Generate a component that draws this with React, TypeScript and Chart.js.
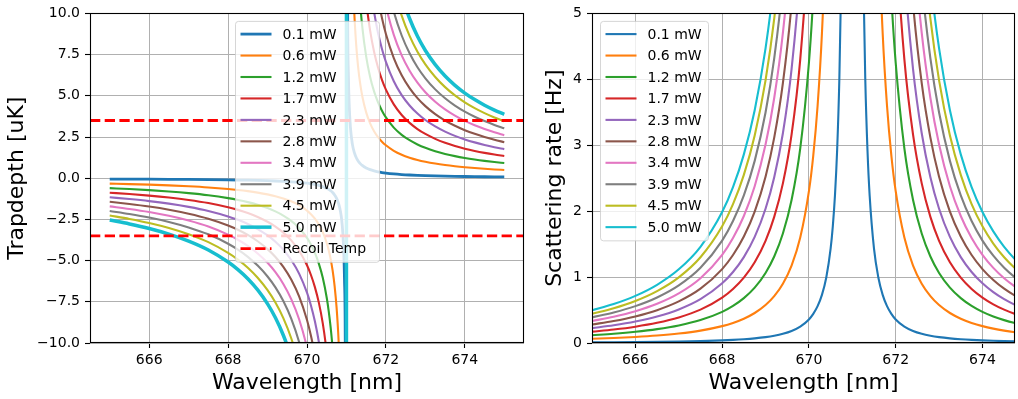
import React, { useEffect, useRef } from 'react';
import { Chart, registerables } from 'chart.js';

Chart.register(...registerables);
Chart.defaults.font.family = '"DejaVu Sans", sans-serif';
Chart.defaults.color = '#000';

// ---- data ----
const wavelengths = [
  665, 665.5, 666, 666.5, 667, 667.5, 668, 668.25, 668.5, 668.75, 669, 669.2, 669.4, 669.6, 669.8,
  670, 670.1, 670.2, 670.3, 670.4, 670.5, 670.55, 670.6, 670.65, 670.7, 670.75, 670.8, 670.85,
  670.88, 670.91, 670.93, 670.95, 670.97, 670.99, 671.01, 671.03, 671.05, 671.07, 671.1, 671.15,
  671.2, 671.25, 671.3, 671.35, 671.4, 671.5, 671.6, 671.7, 671.8, 671.9, 672, 672.2, 672.4, 672.6,
  672.8, 673, 673.25, 673.5, 673.75, 674, 674.25, 674.5, 674.75, 675,
];

// trap depth per mW of beam power [uK/mW]
const depthPerMw = [
  -0.508, -0.555, -0.61, -0.678, -0.763, -0.871, -1.017, -1.109, -1.22, -1.356, -1.525, -1.694, -1.906, -2.179, -2.542,
  -3.05, -3.389, -3.813, -4.357, -5.083, -6.1, -6.778, -7.625, -8.714, -10.17, -12.2, -15.25, -20.33,
  -25.42, -33.89, -43.57, -61.0, -101.7, -305, 310, 103.3, 62.0, 44.29, 31.0, 20.67,
  15.5, 12.4, 10.33, 8.857, 7.75, 6.2, 5.167, 4.429, 3.875, 3.444, 3.1, 2.583, 2.214, 1.938,
  1.722, 1.55, 1.378, 1.24, 1.127, 1.033, 0.954, 0.886, 0.827, 0.775,
];

// scattering rate per mW of beam power [Hz/mW]
const scatterPerMw = [
  0.0993, 0.1182, 0.143, 0.1766, 0.2235, 0.2919, 0.3973, 0.4729, 0.5722, 0.7064, 0.894, 1.104, 1.397, 1.824, 2.483,
  3.576, 4.415, 5.588, 7.298, 9.933, 14.3, 17.66, 22.35, 29.19, 39.73, 57.22, 89.4, 158.9,
  248.3, 441.5, 729.8, 1430, 3973, 35760, 35760, 3973, 1430, 729.8, 357.6, 158.9,
  89.4, 57.22, 39.73, 29.19, 22.35, 14.3, 9.933, 7.298, 5.588, 4.415, 3.576, 2.483, 1.824, 1.397,
  1.104, 0.894, 0.7064, 0.5722, 0.4729, 0.3973, 0.3386, 0.2919, 0.2543, 0.2235,
];

const powers = [0.1, 0.644, 1.189, 1.733, 2.278, 2.822, 3.367, 3.911, 4.456, 5.0];
const powerLabels = ['0.1 mW', '0.6 mW', '1.2 mW', '1.7 mW', '2.3 mW', '2.8 mW', '3.4 mW', '3.9 mW', '4.5 mW', '5.0 mW'];
const recoilTemp = 3.5;
const recoilLabel = 'Recoil Temp';

const wavelengthTicks = [666, 668, 670, 672, 674];
const depthTicks = [-10, -7.5, -5, -2.5, 0, 2.5, 5, 7.5, 10];
const scatterTicks = [0, 1, 2, 3, 4, 5];

const colors = ['#1f77b4', '#ff7f0e', '#2ca02c', '#d62728', '#9467bd', '#8c564b', '#e377c2', '#7f7f7f', '#bcbd22', '#17becf'];

// ---- helpers ----
function roundRect(ctx: CanvasRenderingContext2D, x: number, y: number, w: number, h: number, r: number) {
  ctx.beginPath();
  ctx.moveTo(x + r, y);
  ctx.lineTo(x + w - r, y);
  ctx.arcTo(x + w, y, x + w, y + r, r);
  ctx.lineTo(x + w, y + h - r);
  ctx.arcTo(x + w, y + h, x + w - r, y + h, r);
  ctx.lineTo(x + r, y + h);
  ctx.arcTo(x, y + h, x, y + h - r, r);
  ctx.lineTo(x, y + r);
  ctx.arcTo(x, y, x + r, y, r);
  ctx.closePath();
}

const mplPlugin = {
  id: 'mpl',
  afterDatasetsDraw(chart: any, _args: any, opts: any) {
    const { ctx, chartArea: a } = chart;
    ctx.save();
    // spines
    ctx.strokeStyle = '#000';
    ctx.lineWidth = 1.1;
    ctx.strokeRect(Math.round(a.left) + 0.5, Math.round(a.top) + 0.5, Math.round(a.right - a.left) - 1, Math.round(a.bottom - a.top) - 1);
    // legend
    const items = opts.items || [];
    const x0 = a.left + opts.dx;
    const y0 = a.top + opts.dy;
    const h = opts.first * 2 + (items.length - 1) * opts.spacing;
    roundRect(ctx, x0 + 0.5, y0 + 0.5, opts.width, h, 3);
    ctx.fillStyle = 'rgba(255,255,255,0.8)';
    ctx.fill();
    ctx.strokeStyle = 'rgba(204,204,204,0.8)';
    ctx.lineWidth = 1;
    ctx.stroke();
    ctx.font = '14px "DejaVu Sans"';
    ctx.textBaseline = 'middle';
    ctx.textAlign = 'left';
    items.forEach((it: any, k: number) => {
      const y = y0 + opts.first + k * opts.spacing;
      ctx.beginPath();
      ctx.setLineDash(it.dash || []);
      ctx.strokeStyle = it.color;
      ctx.lineWidth = it.width;
      ctx.moveTo(x0 + 5.5, y);
      ctx.lineTo(x0 + 36.5, y);
      ctx.stroke();
      ctx.setLineDash([]);
      ctx.fillStyle = '#000';
      ctx.fillText(it.label, x0 + 47.5, y + 1);
    });
    ctx.restore();
  },
};

const fmtSigned = (v: number, d: number) => (v < 0 ? '\u2212' : '') + Math.abs(v).toFixed(d);

function makeScales(opts: {
  xmin: number; xmax: number; ymin: number; ymax: number; yTicks: number[]; yDec: number;
  yTitle: string; yWidth: number; yTitlePad: number;
}) {
  const grid = { color: '#b0b0b0', lineWidth: 1, tickLength: 5, tickColor: '#000', tickWidth: 1.1, drawTicks: true };
  return {
    x: {
      type: 'linear',
      min: opts.xmin,
      max: opts.xmax,
      afterBuildTicks: (s: any) => { s.ticks = wavelengthTicks.map((v) => ({ value: v })); },
      afterFit: (s: any) => { s.height = 56; },
      grid,
      border: { display: false },
      ticks: { font: { size: 14 }, color: '#000', padding: 4, maxRotation: 0, autoSkip: false, callback: (v: any) => String(v) },
      title: { display: true, text: 'Wavelength [nm]', font: { size: 22 }, color: '#000', padding: { top: 0, bottom: 2.5 } },
    },
    y: {
      type: 'linear',
      min: opts.ymin,
      max: opts.ymax,
      afterBuildTicks: (s: any) => { s.ticks = opts.yTicks.map((v) => ({ value: v })); },
      afterFit: (s: any) => { s.width = opts.yWidth; },
      grid,
      border: { display: false },
      ticks: { font: { size: 14 }, color: '#000', padding: 5, autoSkip: false, callback: (v: any) => fmtSigned(Number(v), opts.yDec) },
      title: { display: true, text: opts.yTitle, font: { size: 22 }, color: '#000', padding: { top: opts.yTitlePad, bottom: 0 } },
    },
  };
}

function seriesData(perMw: number[], p: number) {
  return wavelengths.map((w, j) => ({ x: w, y: perMw[j] * p }));
}

const depthWidth = (i: number) => (i === 0 ? 2.8 : i === powers.length - 1 ? 3.5 : 2.1);

function buildDepth(): any {
  const datasets: any[] = powers.map((p, i) => ({
    label: powerLabels[i],
    data: seriesData(depthPerMw, p),
    borderColor: colors[i],
    borderWidth: depthWidth(i),
    pointRadius: 0,
    cubicInterpolationMode: 'monotone',
    capBezierPoints: false,
    clip: 0,
    order: 20 - i,
  }));
  [recoilTemp, -recoilTemp].forEach((t, k) => {
    datasets.push({
      label: k === 0 ? recoilLabel : '',
      data: [{ x: 664.5, y: t }, { x: 675.5, y: t }],
      borderColor: '#ff0000',
      borderWidth: 2.8,
      borderDash: [10.3, 4.4],
      pointRadius: 0,
      clip: 0,
      order: 0,
    });
  });
  const items: any[] = powers.map((_, i) => ({ label: powerLabels[i], color: colors[i], width: depthWidth(i) }));
  items.push({ label: recoilLabel, color: '#ff0000', width: 2.8, dash: [10.3, 4.4] });
  return {
    type: 'line',
    data: { datasets },
    options: {
      animation: false,
      responsive: false,
      maintainAspectRatio: false,
      events: [],
      layout: { padding: { left: 0, top: 11, right: 16, bottom: 0 } },
      plugins: {
        legend: { display: false },
        tooltip: { enabled: false },
        mpl: { items, dx: 145, dy: 7.5, width: 144, first: 13.2, spacing: 21.45 },
      },
      scales: makeScales({ xmin: 664.5, xmax: 675.5, ymin: -10, ymax: 10, yTicks: depthTicks, yDec: 1, yTitle: 'Trapdepth [uK]', yWidth: 90, yTitlePad: 4 }),
    },
    plugins: [mplPlugin],
  };
}

function buildScatter(): any {
  const datasets: any[] = powers.map((p, i) => ({
    label: powerLabels[i],
    data: seriesData(scatterPerMw, p),
    borderColor: colors[i],
    borderWidth: 2.1,
    pointRadius: 0,
    cubicInterpolationMode: 'monotone',
    capBezierPoints: false,
    clip: 0,
    order: 20 - i,
  }));
  const items = powers.map((_, i) => ({ label: powerLabels[i], color: colors[i], width: 2.1 }));
  return {
    type: 'line',
    data: { datasets },
    options: {
      animation: false,
      responsive: false,
      maintainAspectRatio: false,
      events: [],
      layout: { padding: { left: 0, top: 11, right: 3, bottom: 0 } },
      plugins: {
        legend: { display: false },
        tooltip: { enabled: false },
        mpl: { items, dx: 8, dy: 7.5, width: 108, first: 13.2, spacing: 21.45 },
      },
      scales: makeScales({ xmin: 665, xmax: 674.75, ymin: 0, ymax: 5, yTicks: scatterTicks, yDec: 0, yTitle: 'Scattering rate [Hz]', yWidth: 52, yTitlePad: 2.3 }),
    },
    plugins: [mplPlugin],
  };
}

function ChartCanvas({ build, left, width }: { build: () => any; left: number; width: number }) {
  const ref = useRef<HTMLCanvasElement | null>(null);
  useEffect(() => {
    if (!ref.current) return;
    const chart = new Chart(ref.current, build());
    return () => chart.destroy();
  }, [build]);
  return (
    <canvas
      ref={ref}
      width={width}
      height={399}
      style={{ position: 'absolute', left, top: 0, width, height: 399 }}
    />
  );
}

export default function App() {
  return (
    <div style={{ position: 'absolute', left: 0, top: 0, width: 1018, height: 399, background: '#fff' }}>
      <ChartCanvas build={buildDepth} left={0} width={540} />
      <ChartCanvas build={buildScatter} left={540} width={478} />
    </div>
  );
}
